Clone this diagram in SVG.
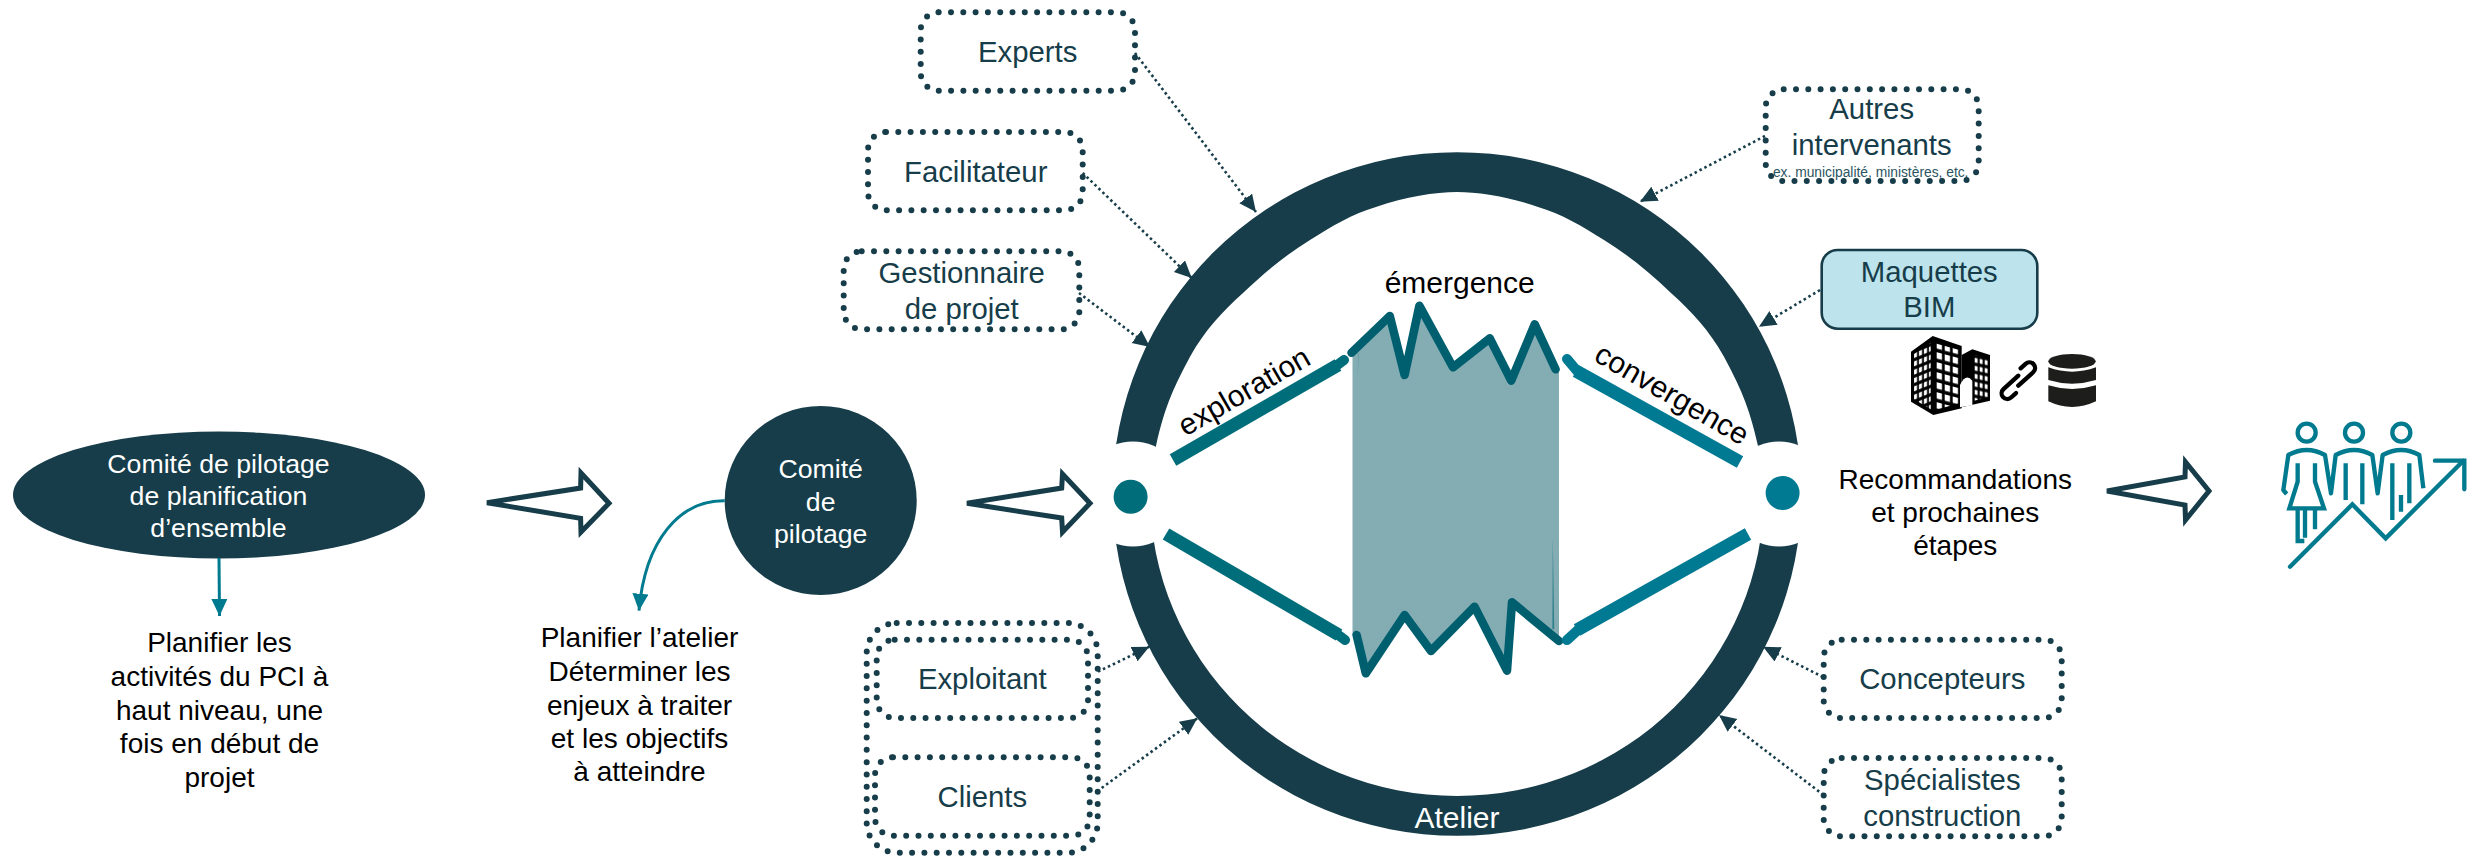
<svg xmlns="http://www.w3.org/2000/svg" width="2481" height="857" viewBox="0 0 2481 857">
<style>
text{font-family:"Liberation Sans",Arial,sans-serif;text-anchor:middle}
.b{font-size:29.33px;fill:#163d49}
.k{font-size:28px;fill:#000}
.w{font-size:26.67px;fill:#fff}
.p{font-size:30px;fill:#000}
.dot{fill:none;stroke:#163d49;stroke-width:6;stroke-linecap:round;stroke-dasharray:0 12.3}
.con{fill:none;stroke:#163d49;stroke-width:2.6;stroke-dasharray:2.5 3;marker-end:url(#dark)}
.tcon{fill:none;stroke:#007a8f;stroke-width:3;marker-end:url(#teal)}
.hollow{fill:#fff;stroke:#163d49;stroke-width:5;stroke-linejoin:miter;stroke-miterlimit:3.5}
.phase{stroke-width:13;fill:none}
.neck{stroke-width:10;fill:none;stroke-linecap:round}
.zig{fill:none;stroke:#005f6f;stroke-width:8.5;stroke-linejoin:round;stroke-linecap:round}
.ic{fill:none;stroke:#007a8f;stroke-width:13}
.win{fill:#fff}
</style>
<defs>
<marker id="dark" markerUnits="userSpaceOnUse" markerWidth="18" markerHeight="18" refX="17" refY="8" orient="auto"><path d="M0 0L17 8L0 16Z" fill="#163d49"/></marker>
<marker id="teal" markerUnits="userSpaceOnUse" markerWidth="18" markerHeight="18" refX="17" refY="8" orient="auto"><path d="M0 0L17 8L0 16Z" fill="#007a8f"/></marker>
<pattern id="w1" width="24" height="30" patternUnits="userSpaceOnUse" patternTransform="translate(648 0) skewY(15)"><rect x="2" y="6" width="16" height="19" class="win"/></pattern>
<pattern id="w2" width="15" height="25" patternUnits="userSpaceOnUse" patternTransform="translate(580 0) skewY(-22)"><rect x="2" y="5" width="9" height="15" class="win"/></pattern>
<pattern id="w3" width="15" height="24" patternUnits="userSpaceOnUse" patternTransform="translate(762 0) skewY(12)"><rect x="2" y="5" width="9" height="14" class="win"/></pattern>
</defs>

<g id="comite-ensemble">
<ellipse cx="219" cy="495" rx="206" ry="63.5" fill="#163d49"/>
<text class="w" x="218.5" y="472.7">Comité de pilotage</text>
<text class="w" x="218.5" y="504.7">de planification</text>
<text class="w" x="218.5" y="536.7">d’ensemble</text>
</g>
<g id="note-planifier">
<text class="k" x="219.5" y="652.3">Planifier les</text>
<text class="k" x="219.5" y="686">activités du PCI à</text>
<text class="k" x="219.5" y="719.6">haut niveau, une</text>
<text class="k" x="219.5" y="753.2">fois en début de</text>
<text class="k" x="219.5" y="786.8">projet</text>
</g>
<g id="comite-pilotage">
<ellipse cx="820.7" cy="500.5" rx="96" ry="94.5" fill="#163d49"/>
<text class="w" x="820.7" y="478.3">Comité</text>
<text class="w" x="820.7" y="510.7">de</text>
<text class="w" x="820.7" y="542.7">pilotage</text>
</g>
<g id="note-atelier">
<text class="k" x="639.5" y="647.3">Planifier l’atelier</text>
<text class="k" x="639.5" y="681">Déterminer les</text>
<text class="k" x="639.5" y="714.6">enjeux à traiter</text>
<text class="k" x="639.5" y="748.2">et les objectifs</text>
<text class="k" x="639.5" y="781.4">à atteindre</text>
</g>

<g id="experts"><rect class="dot" x="920.7" y="12.3" width="214.3" height="78.4" rx="18"/><text class="b" x="1027.7" y="62.3">Experts</text></g>
<g id="facilitateur"><rect class="dot" x="868" y="132" width="214.7" height="78.3" rx="18"/><text class="b" x="975.7" y="182">Facilitateur</text></g>
<g id="gestionnaire"><rect class="dot" x="843.7" y="251.3" width="235.6" height="78" rx="18"/><text class="b" x="961.7" y="282.7">Gestionnaire</text><text class="b" x="961.7" y="319">de projet</text></g>
<g id="exploitant-clients"><rect class="dot" x="866.7" y="623" width="231" height="229.7" rx="30"/></g>
<g id="exploitant"><rect class="dot" x="876.7" y="639.7" width="211.3" height="78.3" rx="18"/><text class="b" x="982.3" y="689.3">Exploitant</text></g>
<g id="clients"><rect class="dot" x="875" y="757.3" width="214.7" height="78.4" rx="18"/><text class="b" x="982.3" y="807.3">Clients</text></g>
<g id="autres"><rect class="dot" x="1765.7" y="89.3" width="213" height="91.7" rx="18"/><text class="b" x="1871.7" y="119.3">Autres</text><text class="b" x="1871.7" y="155.3">intervenants</text><text x="1870.7" y="176.7" font-size="13.8" fill="#2b5562">ex. municipalité, ministères, etc.</text></g>
<g id="maquettes"><rect x="1821.7" y="250" width="215.6" height="78.7" rx="16" fill="#bde3ec" stroke="#163d49" stroke-width="2.6"/><text class="b" x="1929.3" y="281.7">Maquettes</text><text class="b" x="1929.3" y="317.3">BIM</text></g>
<g id="concepteurs"><rect class="dot" x="1823.7" y="639.7" width="238" height="78.3" rx="18"/><text class="b" x="1942.3" y="689.3">Concepteurs</text></g>
<g id="specialistes"><rect class="dot" x="1823.7" y="758" width="238" height="78.3" rx="18"/><text class="b" x="1942.3" y="790">Spécialistes</text><text class="b" x="1942.3" y="826">construction</text></g>

<g id="bim-icons" transform="translate(1720 60) scale(.33333)">
<path d="M573 875L638 828L725 858V1045L640 1065L573 1025Z" fill="#000"/>
<path d="M725 885L757 868L810 885V1022L725 1042Z" fill="#000"/>
<path d="M582 882L632 848V1048L582 1018Z" fill="url(#w2)"/>
<path d="M645 850L718 870V1030L645 1050Z" fill="url(#w1)"/>
<path d="M762 884L804 896V1012L762 1022Z" fill="url(#w3)"/>
<path d="M720 1042V975Q738 938 757 962V1036Z" fill="#fff"/>
<g fill="none" stroke="#000" stroke-width="13" stroke-linecap="round" transform="rotate(-42 895 962)">
<path d="M925 939H945A17 17 0 0 1 945 973H885"/>
<path d="M865 985H845A17 17 0 0 1 845 951H905"/>
</g>
<g fill="#1d1d1b">
<ellipse cx="1056" cy="904" rx="71" ry="22"/>
<path d="M985 922Q1056 948 1128 922V960Q1056 982 985 960Z"/>
<path d="M985 976Q1056 998 1128 976V1024Q1056 1058 985 1024Z"/>
</g>
</g>

<g id="atelier">
<path d="M1352.5 352.7L1389.8 316L1404.6 375L1419.4 305.7L1453 367.3L1489.8 338.3L1511.2 380.7L1534.7 324.3L1559 369.3V641L1512 602.3L1507 670.7L1474.5 606.7L1431 651L1404.6 615L1365.8 673.3L1356.6 635H1352.5Z" fill="#83acb3"/>
<path d="M1552.8 537L1552.4 629L1554.2 629Z" fill="#2f7f8c"/>
<path d="M1358.3 353L1357.6 378L1359 353Z" fill="#5f98a2"/>
<path fill-rule="evenodd" fill="#163d49" d="M1112.5 494A344.5 342 0 0 1 1801.5 494A344.5 342 0 0 1 1112.5 494ZM1150 494L1156 446C1165 405 1175 385 1190 356.7C1205 330 1222 312 1243 293C1265 272 1287 254 1310 240C1332 226 1352 214 1376.7 206.7C1405 197 1435 192 1457 192C1479 192 1509 197 1537.3 206.7C1562 214 1582 226 1604 240C1627 254 1649 272 1671 293C1692 312 1709 330 1724 356.7C1739 385 1749 405 1758 446L1764 494A307 302 0 0 1 1150 494Z"/>
<circle cx="1133" cy="494" r="52.5" fill="#fff"/>
<circle cx="1779" cy="494" r="52.5" fill="#fff"/>
<ellipse cx="1130.6" cy="496.7" rx="17" ry="17" fill="#006d7a"/>
<ellipse cx="1782.6" cy="493" rx="17" ry="17" fill="#007a92"/>
<path class="zig" d="M1351.5 352.7L1389.8 316L1404.6 375L1419.4 305.7L1453 367.3L1489.8 338.3L1511.2 380.7L1534.7 324.3L1555.6 369.3"/>
<path class="zig" d="M1356.6 635L1365.8 673.3L1404.6 615L1431 651L1474.5 606.7L1507 670.7L1512 602.3L1559 641"/>
<path class="phase" stroke="#006d7a" d="M1173 460L1338 365"/><path class="neck" stroke="#006d7a" d="M1336 366L1344 360"/>
<path class="phase" stroke="#007a92" d="M1740 462L1576 371"/><path class="neck" stroke="#007a92" d="M1578 372L1567 359"/>
<path class="phase" stroke="#006d7a" d="M1166 534L1339 635"/><path class="neck" stroke="#006d7a" d="M1337 634L1345 640"/>
<path class="phase" stroke="#007a92" d="M1748 534L1577 630"/><path class="neck" stroke="#007a92" d="M1579 629L1567 640"/>
<text class="p" x="1459.7" y="293">émergence</text>
<text class="p" transform="translate(1249 400) rotate(-30)">exploration</text>
<text class="p" transform="translate(1667 403) rotate(30)">convergence</text>
<text x="1457" y="827.7" font-size="30" fill="#fff">Atelier</text>
</g>
<g id="recommandations">
<text class="k" x="1955.3" y="489">Recommandations</text>
<text class="k" x="1955.3" y="521.7">et prochaines</text>
<text class="k" x="1955.3" y="555">étapes</text>
</g>
<g id="people-icon" transform="translate(2270 410) scale(.33333)">
<circle class="ic" cx="110" cy="68" r="27"/><circle class="ic" cx="252" cy="68" r="27"/><circle class="ic" cx="394" cy="68" r="27"/>
<path class="ic" stroke-linejoin="round" d="M50 252L40 240L55 135Q110 105 165 135L183 250L197 135Q252 105 307 135L323 250L338 135Q394 105 448 135L460 235"/>
<path class="ic" d="M83 160V215L58 295H162L135 215V160"/>
<path class="ic" d="M83 295V393H103M105 295V383M135 295V358"/>
<path class="ic" d="M227 160V270M277 160V283M367 160V330M418 160V280M393 255V305"/>
<path class="ic" stroke-linecap="round" d="M60 470L247 283L347 385L580 152M495 152H583V238"/>
</g>

<g id="connectors">
<path class="hollow" d="M487 502.7L580.6 488L581 473L609 503.3L581 532L580.6 518.3Z"/>
<path class="hollow" d="M967 503.3L1061.7 488L1062.5 474L1090 503.3L1062.5 532L1061.7 518Z"/>
<path class="hollow" d="M2107 491L2185 477L2185.5 462L2209 491L2185.5 520L2185 505Z"/>
<path class="tcon" d="M219 558L219.5 616"/>
<path class="tcon" d="M724.7 500.7C680 500 645 540 639 610.7"/>
<path class="con" d="M1135 53L1256 212"/>
<path class="con" d="M1082.7 173L1191.7 278"/>
<path class="con" d="M1079 293L1150 347"/>
<path class="con" d="M1098 671.7L1149.3 646.7"/>
<path class="con" d="M1101.7 788L1197.3 718.3"/>
<path class="con" d="M1765 136L1640 201.7"/>
<path class="con" d="M1820 290L1759 326.7"/>
<path class="con" d="M1823 677L1763 646.7"/>
<path class="con" d="M1823.5 795L1719 715"/>
</g>
</svg>
